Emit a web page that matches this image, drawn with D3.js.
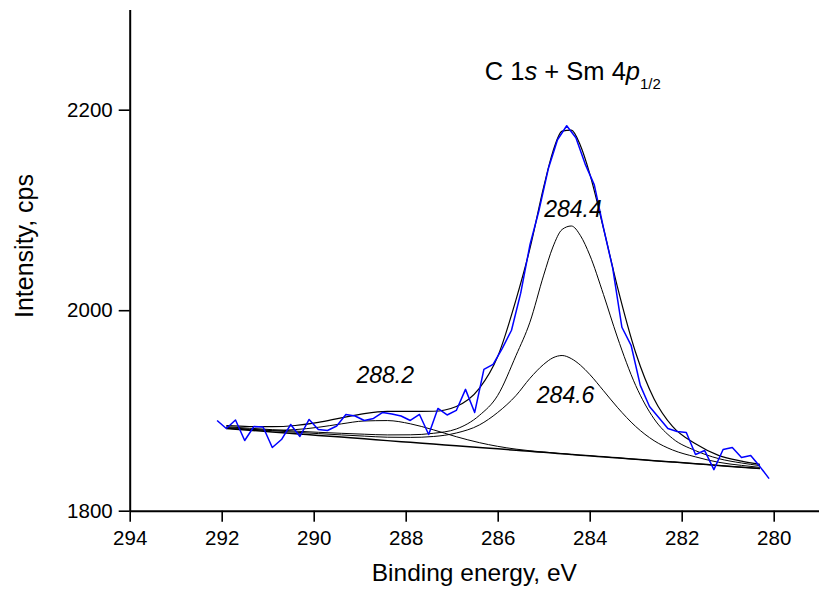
<!DOCTYPE html>
<html>
<head>
<meta charset="utf-8">
<title>C 1s + Sm 4p1/2</title>
<script src="https://d3js.org/d3.v7.min.js"></script>
<style>
  body { margin: 0; background: #fff; }
  text { font-family: "Liberation Sans", Arial, sans-serif; fill: #000; }
</style>
</head>
<body>
<script>
// measured spectrum, 0.2 eV step
var energy = [292.1, 291.9, 291.7, 291.5, 291.3, 291.1, 290.9, 290.7, 290.5, 290.3,
              290.1, 289.9, 289.7, 289.5, 289.3, 289.1, 288.9, 288.7, 288.5, 288.3,
              288.1, 287.9, 287.7, 287.5, 287.3, 287.1, 286.9, 286.7, 286.5, 286.3,
              286.1, 285.9, 285.7, 285.5, 285.3, 285.1, 284.9, 284.7, 284.5, 284.3,
              284.1, 283.9, 283.7, 283.5, 283.3, 283.1, 282.9, 282.7, 282.5, 282.3,
              282.1, 281.9, 281.7, 281.5, 281.3, 281.1, 280.9, 280.7, 280.5, 280.3, 280.1];
var counts = [1890, 1882, 1890.5, 1870, 1884, 1883.5, 1863, 1871, 1886, 1874,
              1891, 1881, 1880, 1884.5, 1896, 1894.5, 1890, 1892, 1898, 1896.5,
              1894.5, 1890, 1896, 1876, 1902, 1895.5, 1900, 1921, 1898, 1941,
              1946, 1962, 1980, 2017, 2065, 2100, 2141, 2170, 2184, 2172,
              2146, 2125, 2082, 2042, 1983, 1965, 1925, 1904, 1893, 1882,
              1879, 1878, 1856, 1860, 1841, 1861, 1863, 1853, 1855, 1844, 1832];

// fitted curves (each component drawn on top of the background)
var fitEnergy = [291.9, 291.4, 290.9, 290.4, 289.9, 289.4, 288.9, 288.4, 287.9, 287.4,
                 286.9, 286.4, 286.0, 285.6, 285.3, 285.0, 284.8, 284.6, 284.4, 284.2,
                 284.0, 283.7, 283.4, 283.0, 282.6, 282.2, 281.7, 281.2, 280.7, 280.3];
var background = [1882.0, 1880.3, 1878.5, 1876.8, 1875.1, 1873.4, 1871.7, 1869.9, 1868.2, 1866.5,
                  1864.8, 1863.1, 1861.7, 1860.3, 1859.2, 1858.2, 1857.5, 1856.8, 1856.1, 1855.4,
                  1854.8, 1853.7, 1852.7, 1851.3, 1849.9, 1848.6, 1846.9, 1845.1, 1843.4, 1842.0];
var peak2882 = [1882.2, 1880.9, 1880.2, 1880.9, 1883.2, 1886.6, 1889.5, 1889.9, 1886.7, 1880.7,
                1873.8, 1867.9, 1864.2, 1861.4, 1859.8, 1858.5, 1857.7, 1856.9, 1856.1, 1855.4,
                1854.8, 1853.7, 1852.7, 1851.3, 1849.9, 1848.6, 1846.9, 1845.1, 1843.4, 1842.0];
var peak2844 = [1883.7, 1882.3, 1880.8, 1879.4, 1878.2, 1877.2, 1876.3, 1875.6, 1875.7, 1877.2,
                1881.5, 1895.0, 1915.0, 1955.0, 1988.0, 2035.0, 2063.0, 2080.5, 2084.0, 2074.3,
                2055.1, 2015.6, 1973.3, 1924.9, 1891.6, 1872.1, 1859.9, 1852.0, 1847.6, 1845.0];
var peak2846 = [1883.0, 1881.4, 1879.8, 1878.3, 1876.9, 1875.6, 1874.4, 1873.3, 1873.1, 1874.0,
                1877.5, 1885.5, 1898.0, 1915.0, 1932.0, 1946.0, 1952.5, 1954.8, 1951.7, 1945.1,
                1936.0, 1919.7, 1903.2, 1884.0, 1869.8, 1860.6, 1853.7, 1848.3, 1845.2, 1843.2];
var envelope = [1884.9, 1884.0, 1883.8, 1885.0, 1888.1, 1892.6, 1896.8, 1899.0, 1899.1, 1899.2,
                1904.0, 1922.0, 1953.8, 2010.8, 2061.4, 2123.0, 2158.2, 2178.6, 2179.6, 2164.0,
                2136.3, 2081.6, 2023.8, 1957.6, 1911.5, 1884.1, 1866.7, 1855.2, 1849.4, 1846.2];

var xMajor = [294, 292, 290, 288, 286, 284, 282, 280];
var xMinor = [293, 291, 289, 287, 285, 283, 281, 279];
var yMajor = [1800, 2000, 2200];
var yMinor = [1900, 2100, 2300];
var peakNames = ["288.2", "284.4", "284.6"];

var width = 819, height = 598;

var svg = d3.select("body")
       .append("svg")
       .attr("width", width)
       .attr("height", height);

var x = d3.scaleLinear().domain([294, 279]).range([129.7, 819.7]);
var y = d3.scaleLinear().domain([1800, 2300]).range([510.7, 9.45]);

// axes
var gx = svg.append("g").attr("transform", "translate(0," + y(1800) + ")");
gx.call(d3.axisBottom(x).tickValues(xMinor).tickSize(6).tickSizeOuter(0).tickFormat(""));
gx.call(d3.axisBottom(x).tickValues(xMajor).tickSize(11).tickSizeOuter(0).tickPadding(9)
        .tickFormat(d3.format("d")));

var gy = svg.append("g").attr("transform", "translate(" + x(294) + ",0)");
gy.call(d3.axisLeft(y).tickValues(yMinor).tickSize(6).tickSizeOuter(0).tickFormat(""));
gy.call(d3.axisLeft(y).tickValues(yMajor).tickSize(11).tickSizeOuter(0).tickPadding(6)
        .tickFormat(d3.format("d")));

svg.selectAll(".domain").attr("stroke", "#000").attr("stroke-width", 2);
svg.selectAll(".tick line").attr("stroke", "#000").attr("stroke-width", 1.6);
svg.selectAll(".tick text").attr("font-size", 20.5)
   .attr("font-family", "'Liberation Sans', Arial, sans-serif");

// fitted curves
var fitLine = function(vals) {
  return d3.line()
    .x(function(d, i) { return x(fitEnergy[i]); })
    .y(function(d) { return y(d); })
    .curve(d3.curveMonotoneX)(vals);
};

svg.append("path").attr("d", fitLine(background))
   .attr("fill", "none").attr("stroke", "#000").attr("stroke-width", 1.5);
[peak2882, peak2844, peak2846].forEach(function(p) {
  svg.append("path").attr("d", fitLine(p))
     .attr("fill", "none").attr("stroke", "#000").attr("stroke-width", 1);
});
svg.append("path").attr("d", fitLine(envelope))
   .attr("fill", "none").attr("stroke", "#000").attr("stroke-width", 1.2);

// measured data
var dataLine = d3.line()
  .x(function(d, i) { return x(energy[i]); })
  .y(function(d) { return y(d); });
svg.append("path").attr("d", dataLine(counts))
   .attr("fill", "none").attr("stroke", "#0000ff").attr("stroke-width", 1.5)
   .attr("stroke-linejoin", "round");

// peak labels
svg.append("text").attr("x", x(289.07)).attr("y", y(1927.7))
   .attr("font-size", 23).attr("font-style", "italic").text(peakNames[0]);
svg.append("text").attr("x", x(284.99)).attr("y", y(2093.3))
   .attr("font-size", 23).attr("font-style", "italic").text(peakNames[1]);
svg.append("text").attr("x", x(285.15)).attr("y", y(1907.4))
   .attr("font-size", 23).attr("font-style", "italic").text(peakNames[2]);

// title
var title = svg.append("text").attr("x", x(286.28)).attr("y", y(2229.6)).attr("font-size", 25.5);
title.append("tspan").text("C 1");
title.append("tspan").attr("font-style", "italic").text("s");
title.append("tspan").text(" + Sm 4");
title.append("tspan").attr("font-style", "italic").text("p");
title.append("tspan").attr("font-size", 15).attr("dy", 9).text("1/2");

// axis titles
svg.append("text").attr("x", (x(294) + width) / 2).attr("y", 581)
   .attr("text-anchor", "middle").attr("font-size", 24.5).text("Binding energy, eV");
svg.append("text").attr("transform", "translate(33,246) rotate(-90)")
   .attr("text-anchor", "middle").attr("font-size", 25).text("Intensity, cps");
</script>
</body>
</html>
